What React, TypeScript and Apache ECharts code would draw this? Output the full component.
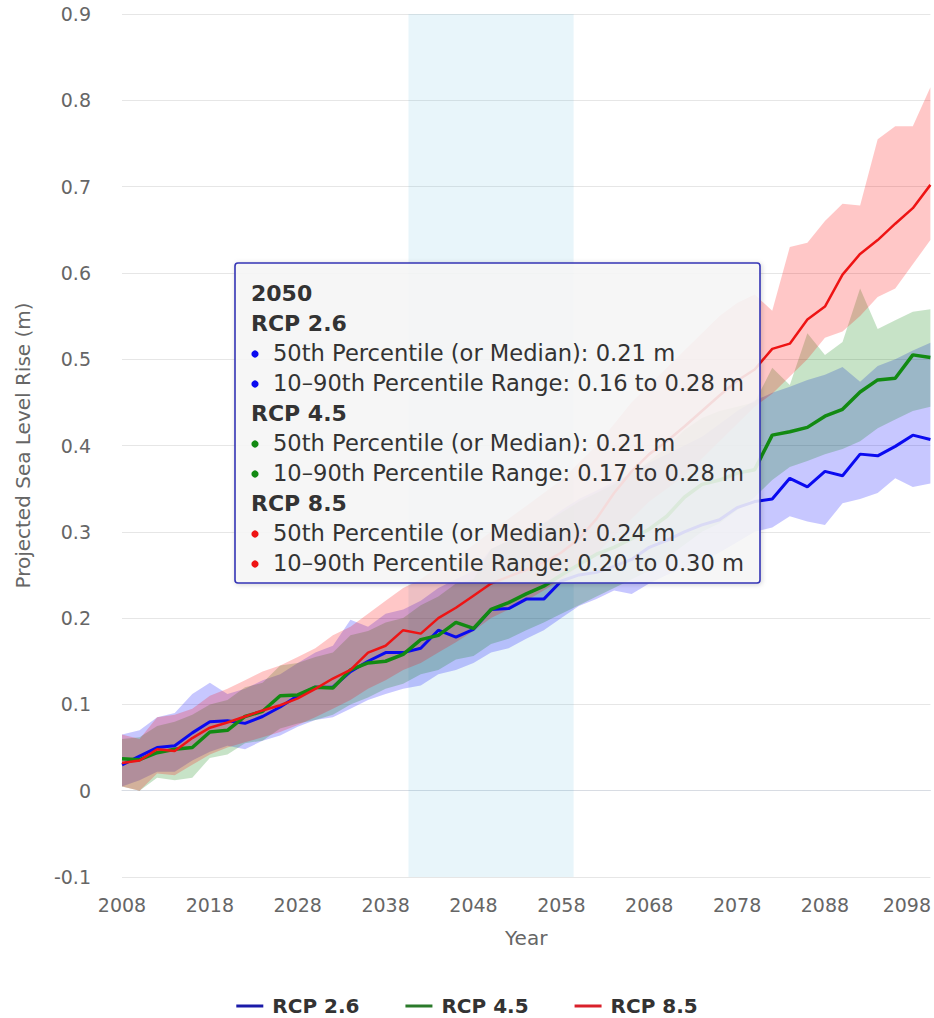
import React, { useEffect, useRef } from "react";
import * as echarts from "echarts";

const FONT = "'DejaVu Sans', Verdana, sans-serif";

const years = [
  2008, 2010, 2012, 2014, 2016, 2018, 2020, 2022, 2024, 2026, 2028, 2030, 2032, 2034, 2036, 2038,
  2040, 2042, 2044, 2046, 2048, 2050, 2052, 2054, 2056, 2058, 2060, 2062, 2064, 2066, 2068, 2070,
  2072, 2074, 2076, 2078, 2080, 2082, 2084, 2086, 2088, 2090, 2092, 2094, 2096, 2098, 2100,
];

const rcp26Median = [
  0.030, 0.040, 0.050, 0.052, 0.067, 0.080, 0.081, 0.078, 0.086, 0.097, 0.110, 0.120, 0.120, 0.138, 0.150, 0.160,
  0.160, 0.165, 0.186, 0.178, 0.187, 0.210, 0.211, 0.222, 0.222, 0.243, 0.250, 0.253, 0.260, 0.268, 0.282, 0.290,
  0.300, 0.308, 0.314, 0.328, 0.335, 0.338, 0.362, 0.352, 0.370, 0.365, 0.390, 0.388, 0.399, 0.412, 0.407,
];
const rcp26Low = [
  0.005, 0.012, 0.022, 0.022, 0.035, 0.045, 0.052, 0.048, 0.058, 0.064, 0.074, 0.082, 0.085, 0.095, 0.105, 0.112,
  0.118, 0.122, 0.135, 0.140, 0.148, 0.160, 0.165, 0.176, 0.186, 0.200, 0.214, 0.222, 0.232, 0.228, 0.240, 0.250,
  0.258, 0.266, 0.276, 0.288, 0.300, 0.305, 0.318, 0.312, 0.308, 0.333, 0.338, 0.345, 0.362, 0.352, 0.356,
];
const rcp26High = [
  0.065, 0.070, 0.085, 0.090, 0.112, 0.125, 0.112, 0.118, 0.128, 0.135, 0.148, 0.160, 0.168, 0.198, 0.190, 0.205,
  0.210, 0.220, 0.235, 0.245, 0.255, 0.280, 0.290, 0.300, 0.310, 0.325, 0.338, 0.348, 0.358, 0.368, 0.380, 0.390,
  0.400, 0.410, 0.425, 0.440, 0.452, 0.461, 0.468, 0.476, 0.482, 0.491, 0.474, 0.492, 0.500, 0.510, 0.519,
];

const rcp45Median = [
  0.037, 0.036, 0.044, 0.048, 0.050, 0.068, 0.070, 0.086, 0.092, 0.110, 0.111, 0.120, 0.119, 0.140, 0.148, 0.150,
  0.158, 0.175, 0.180, 0.195, 0.188, 0.210, 0.218, 0.228, 0.237, 0.250, 0.262, 0.274, 0.282, 0.292, 0.303, 0.318,
  0.340, 0.355, 0.360, 0.368, 0.372, 0.412, 0.416, 0.421, 0.434, 0.442, 0.462, 0.476, 0.478, 0.505, 0.502,
];
const rcp45Low = [
  0.005, 0.000, 0.015, 0.012, 0.015, 0.038, 0.042, 0.055, 0.058, 0.072, 0.078, 0.082, 0.088, 0.100, 0.108, 0.118,
  0.124, 0.135, 0.140, 0.152, 0.156, 0.170, 0.176, 0.186, 0.195, 0.205, 0.215, 0.225, 0.235, 0.245, 0.255, 0.270,
  0.285, 0.300, 0.310, 0.325, 0.340, 0.360, 0.375, 0.382, 0.390, 0.396, 0.405, 0.420, 0.430, 0.440, 0.445,
];
const rcp45High = [
  0.060, 0.062, 0.075, 0.080, 0.088, 0.100, 0.105, 0.120, 0.125, 0.145, 0.148, 0.155, 0.160, 0.180, 0.185, 0.195,
  0.200, 0.215, 0.225, 0.240, 0.245, 0.280, 0.290, 0.300, 0.310, 0.322, 0.335, 0.345, 0.355, 0.368, 0.382, 0.398,
  0.418, 0.432, 0.440, 0.445, 0.450, 0.490, 0.470, 0.530, 0.505, 0.520, 0.582, 0.535, 0.545, 0.555, 0.558,
];

const rcp85Median = [
  0.032, 0.035, 0.048, 0.046, 0.061, 0.073, 0.079, 0.086, 0.093, 0.099, 0.107, 0.118, 0.130, 0.140, 0.160, 0.168,
  0.186, 0.182, 0.200, 0.212, 0.226, 0.240, 0.248, 0.256, 0.264, 0.276, 0.292, 0.315, 0.345, 0.370, 0.390, 0.405,
  0.422, 0.440, 0.458, 0.475, 0.488, 0.512, 0.518, 0.546, 0.561, 0.598, 0.622, 0.638, 0.657, 0.675, 0.702,
];
const rcp85Low = [
  0.005, 0.000, 0.020, 0.018, 0.030, 0.042, 0.050, 0.056, 0.062, 0.068, 0.076, 0.085, 0.095, 0.105, 0.118, 0.128,
  0.140, 0.148, 0.160, 0.172, 0.185, 0.200, 0.210, 0.220, 0.232, 0.245, 0.260, 0.275, 0.295, 0.315, 0.335, 0.350,
  0.365, 0.385, 0.405, 0.425, 0.445, 0.460, 0.480, 0.500, 0.525, 0.532, 0.550, 0.572, 0.582, 0.610, 0.638,
];
const rcp85High = [
  0.065, 0.060, 0.085, 0.088, 0.095, 0.110, 0.118, 0.128, 0.138, 0.145, 0.155, 0.165, 0.180, 0.190, 0.205, 0.220,
  0.235, 0.245, 0.260, 0.270, 0.285, 0.300, 0.315, 0.330, 0.345, 0.360, 0.380, 0.400, 0.425, 0.450, 0.470, 0.490,
  0.510, 0.530, 0.550, 0.565, 0.575, 0.556, 0.630, 0.635, 0.660, 0.680, 0.678, 0.755, 0.770, 0.770, 0.815,
];

const scenarioNames = ["RCP 2.6", "RCP 4.5", "RCP 8.5"];
const medians = [rcp26Median, rcp45Median, rcp85Median];
const lows = [rcp26Low, rcp45Low, rcp85Low];
const highs = [rcp26High, rcp45High, rcp85High];
const lineColors = ["#0a0af0", "#128a12", "#ee1414"];
const legendColors = ["#1a1aa8", "#2a7a2a", "#d9202a"];
const bandColors = ["rgba(0,0,255,0.22)", "rgba(0,128,0,0.22)", "rgba(255,0,0,0.22)"];
const lineWidths = [3, 3.5, 2.5];

const yMin = -0.1;
const yMax = 0.9;
const yStep = 0.1;
const xMin = 2008;
const xMax = 2100;
const xStep = 10;

const highlightYear = 2050;
const highlightBand = [2040.6, 2059.4];

const App: React.FC = () => {
  const ref = useRef<HTMLDivElement>(null);

  useEffect(() => {
    document.body.style.margin = "0";
    if (!ref.current) return;
    const chart = echarts.init(ref.current, undefined, { renderer: "svg" });

    const series: any[] = [];
    // 10–90th percentile bands, drawn as one polygon per scenario
    scenarioNames.forEach((name, i) => {
      series.push({
        name: name + " range",
        type: "custom",
        data: years.map((y, k) => [y, lows[i][k], highs[i][k]]),
        encode: { x: 0, y: [1, 2] },
        silent: true,
        clip: true,
        z: 2,
        renderItem: (params: any, api: any) => {
          if (params.dataIndex !== 0) return null;
          const n = params.dataInsideLength;
          const upper: number[][] = [];
          const lower: number[][] = [];
          for (let k = 0; k < n; k++) {
            upper.push(api.coord([api.value(0, k), api.value(2, k)]));
            lower.push(api.coord([api.value(0, k), api.value(1, k)]));
          }
          return {
            type: "polygon",
            shape: { points: upper.concat(lower.reverse()) },
            style: { fill: bandColors[i], stroke: "none" },
            silent: true,
          };
        },
      });
    });
    // medians
    scenarioNames.forEach((name, i) => {
      const s: any = {
        name,
        type: "line",
        data: years.map((y, k) => [y, medians[i][k]]),
        symbol: "none",
        color: lineColors[i],
        lineStyle: { color: lineColors[i], width: lineWidths[i] },
        z: 3,
      };
      if (i === 0) {
        s.markArea = {
          silent: true,
          itemStyle: { color: "rgba(68,170,213,0.12)" },
          data: [[{ xAxis: highlightBand[0] }, { xAxis: highlightBand[1] }]],
        };
      }
      series.push(s);
    });

    // tooltip overlay (static, as in the reference screenshot)
    const idx = years.indexOf(highlightYear);
    const f = (v: number) => v.toFixed(2);
    type Row = { text: string; bold?: boolean; bullet?: string };
    const rows: Row[] = [{ text: String(highlightYear), bold: true }];
    scenarioNames.forEach((name, i) => {
      rows.push({ text: name, bold: true });
      rows.push({ text: `50th Percentile (or Median): ${f(medians[i][idx])} m`, bullet: lineColors[i] });
      rows.push({
        text: `10–90th Percentile Range: ${f(lows[i][idx])} to ${f(highs[i][idx])} m`,
        bullet: lineColors[i],
      });
    });
    const boxX = 235, boxY = 263, boxW = 525, boxH = 320;
    const firstY = 293, rowGap = 30, textX = 251;
    const graphics: any[] = [
      {
        type: "rect",
        z: 100,
        shape: { x: boxX, y: boxY, width: boxW, height: boxH, r: 3 },
        style: {
          fill: "rgba(248,248,248,0.86)",
          stroke: "#3535b5",
          lineWidth: 1.6,
          shadowBlur: 5,
          shadowColor: "rgba(0,0,0,0.18)",
          shadowOffsetX: 1,
          shadowOffsetY: 1,
        },
      },
    ];
    rows.forEach((r, k) => {
      const y = firstY + k * rowGap;
      if (r.bullet) {
        graphics.push({
          type: "circle",
          z: 101,
          shape: { cx: textX + 4, cy: y + 1, r: 3.6 },
          style: { fill: r.bullet },
        });
      }
      const size = r.bold ? 22 : 22.6;
      graphics.push({
        type: "text",
        z: 101,
        x: r.bullet ? textX + 22 : textX,
        y,
        style: {
          text: r.text,
          fill: "#333333",
          fontSize: size,
          fontWeight: r.bold ? "bold" : "normal",
          fontFamily: FONT,
          verticalAlign: "middle",
          align: "left",
        },
      });
    });

    const option: any = {
      animation: false,
      backgroundColor: "#ffffff",
      grid: { left: 122, right: 2, top: 14, bottom: 141, containLabel: false },
      xAxis: {
        type: "value",
        min: xMin,
        max: xMax,
        interval: xStep,
        name: "Year",
        nameLocation: "middle",
        nameGap: 51,
        nameTextStyle: { fontSize: 20, color: "#666666", fontFamily: FONT },
        axisLine: { show: true, lineStyle: { color: "#d8dce3", width: 1 } },
        axisTick: { show: false },
        splitLine: { show: false },
        axisLabel: {
          showMaxLabel: false,
          margin: 18,
          fontSize: 19,
          color: "#666666",
          fontFamily: FONT,
          formatter: (v: number) => (v === 2098 ? `{e|${v}}` : `${v}`),
          rich: {
            e: { padding: [0, 12, 0, 0], fontSize: 19, color: "#666666", fontFamily: FONT },
          },
        },
      },
      yAxis: {
        type: "value",
        min: yMin,
        max: yMax,
        interval: yStep,
        name: "Projected Sea Level Rise (m)",
        nameLocation: "middle",
        nameGap: 89,
        nameTextStyle: { fontSize: 20, color: "#666666", fontFamily: FONT },
        axisLine: { show: false },
        axisTick: { show: false },
        splitLine: { show: true, lineStyle: { color: "#e6e6e6", width: 1 } },
        axisLabel: {
          margin: 31,
          fontSize: 19,
          color: "#666666",
          fontFamily: FONT,
          formatter: (v: number) => String(Math.round(v * 10) / 10),
        },
      },
      legend: {
        data: scenarioNames.map((n, i) => ({ name: n, itemStyle: { color: legendColors[i] } })),
        top: 991,
        left: "center",
        icon: "rect",
        itemWidth: 27,
        itemHeight: 3,
        itemGap: 46,
        selectedMode: false,
        textStyle: {
          fontSize: 20,
          fontWeight: "bold",
          color: "#333333",
          fontFamily: FONT,
          padding: [0, 0, 0, 4],
        },
      },
      series,
      graphic: graphics,
    };
    chart.setOption(option);
    return () => chart.dispose();
  }, []);

  return <div ref={ref} style={{ width: 934, height: 1018 }} />;
};

export default App;
